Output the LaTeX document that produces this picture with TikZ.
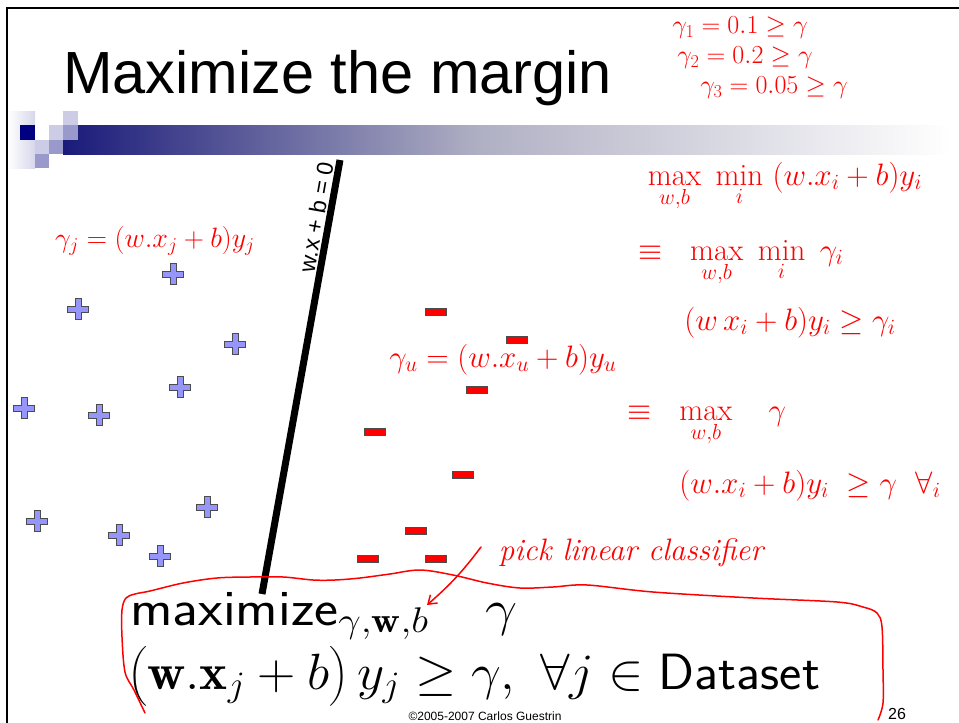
\RequirePackage{fix-cm}
\documentclass[tikz,border=0pt]{standalone}
\usepackage{amsmath}
\usepackage{fontspec}
\newfontfamily\slidefont{Liberation Sans}
\usetikzlibrary{arrows.meta,positioning}
\definecolor{headnavy}{RGB}{26,26,122}
\definecolor{headmid}{RGB}{176,176,196}
\definecolor{sqdark}{RGB}{0,0,128}
\definecolor{sqmid}{RGB}{153,153,204}
\definecolor{sqlight}{RGB}{204,204,230}
\definecolor{posfill}{RGB}{150,150,250}
\definecolor{inkred}{RGB}{255,0,0}

\begin{document}
\begin{tikzpicture}[
  x=1pt, y=-1pt,
  hand/.style={text=inkred, font=\fontsize{31}{33}\selectfont, inner sep=0pt},
  negbox/.style={draw=black!70, fill=red, line width=0.8pt, minimum width=21pt,
                 minimum height=7.5pt, inner sep=0pt},
  posmark/.style={draw=black!70, fill=posfill, line width=0.8pt},
  frameline/.style={line width=2pt},
  ink/.style={draw=inkred, line width=1.5pt, line cap=round, line join=round},
  bigmath/.style={font=\fontsize{51}{58}\selectfont, anchor=base west, inner sep=0pt}
]
\useasboundingbox (0,0) rectangle (959,723);
%--- slide frame and header -------------------------------------------------
\draw[frameline] (7,723) -- (7,8) -- (959,8);
\shade[left color=white, right color=sqlight!80] (8,111) rectangle (35,168);
\shade[left color=headnavy, right color=headmid] (63,125) rectangle (480.5,154);
\shade[left color=headmid, right color=white] (480,125) rectangle (950,154);
\fill[sqdark] (20,125) rectangle (35,140);
\fill[sqlight] (49,125) rectangle (63,140);
\fill[sqlight] (63,111) rectangle (78,125);
\fill[sqmid] (63,125) rectangle (78,140);
\fill[sqlight] (35,140) rectangle (49,154);
\fill[sqmid] (49,140) rectangle (63,154);
\fill[sqmid] (35,154) rectangle (49,168);
\node[anchor=base west, inner sep=0pt, font=\slidefont\fontsize{59.5}{62}\selectfont]
  (title) at (63,93) {Maximize the margin};

%--- separating line ---------------------------------------------------------
\coordinate (bdtop) at (340,160);
\coordinate (bdbot) at (262,594);
\draw[line width=7pt] (bdtop) -- (bdbot);
\node[font=\slidefont\fontsize{23}{25}\selectfont, rotate=80] (bdlabel) at (316,217) {w.x + b = 0};

%--- data points -------------------------------------------------------------
\foreach \px/\py in {173/274, 78/309, 235/344, 180/387, 24/408,
                     99/415, 207/507, 37/521, 119/535, 160/556}{
  \begin{scope}[shift={(\px,\py)}]
    \draw[posmark] (-3,-10.5) -- (3,-10.5) -- (3,-3) -- (10.5,-3) -- (10.5,3)
      -- (3,3) -- (3,10.5) -- (-3,10.5) -- (-3,3) -- (-10.5,3) -- (-10.5,-3)
      -- (-3,-3) -- cycle;
  \end{scope}
}
\foreach \px/\py [count=\k] in {436/312, 517/340, 477/390, 375/432,
                                463/475, 416/531, 368/559, 436/559}
  \node[negbox] (neg\k) at (\px,\py) {};

%--- optimisation problem ----------------------------------------------------
\node[bigmath, xscale=1.12] (objective) at (130,625)
  {\textsf{maximize}$_{\gamma,\mathbf{w},b}\quad\gamma$};
\node[bigmath, xscale=1.04] (constraint) at (128,689)
  {$\bigl(\mathbf{w}.\mathbf{x}_j+b\bigr)\,y_j\geq\gamma,\ \forall j\in\textsf{Dataset}$};

%--- handwritten notes -------------------------------------------------------
\node[hand, font=\fontsize{26}{28}\selectfont] (gam1) at (740,28) {$\gamma_1=0.1\geq\gamma$};
\node[hand, font=\fontsize{26}{28}\selectfont] (gam2) at (745,58) {$\gamma_2=0.2\geq\gamma$};
\node[hand, font=\fontsize{26}{28}\selectfont] (gam3) at (774,88) {$\gamma_3=0.05\geq\gamma$};
\node[hand, anchor=base] (maxmin) at (785,185)
  {$\max\limits_{w,b}\ \min\limits_{i}\ (w.x_i+b)y_i$};
\node[hand, anchor=base] (equiv1) at (741,260)
  {$\equiv\ \ \max\limits_{w,b}\ \min\limits_{i}\ \gamma_i$};
\node[hand, anchor=base] (cons1) at (790,330) {$(w\,x_i+b)y_i\geq\gamma_i$};
\node[hand, anchor=base] (equiv2) at (707,420) {$\equiv\ \ \max\limits_{w,b}\quad\gamma$};
\node[hand, anchor=base] (cons2) at (810,493) {$(w.x_i+b)y_i\ \geq\gamma\ \ \forall_i$};
\node[hand, anchor=base, font=\fontsize{28}{30}\selectfont] (gamj) at (155,247)
  {$\gamma_j=(w.x_j+b)y_j$};
\node[hand, anchor=base] (gamu) at (503,367) {$\gamma_u=(w.x_u+b)y_u$};
\node[hand, anchor=base, font=\itshape\fontsize{31}{33}\selectfont] (pick) at (631,560)
  {pick linear classifier};
\coordinate (picktail) at (481,547);
\coordinate (picktip) at (427,605);
\draw[ink, -{Straight Barb[length=8pt,width=11pt]}] (picktail) to[bend left=6] (picktip);
\draw[ink] plot[smooth, tension=0.55] coordinates {
  (145,713) (134,690) (125,672) (122,637) (122,610) (126,598) (135,594)
  (150,591) (183,583) (217,578) (250,577) (283,577) (313,580) (335,580)
  (360,578) (390,574) (420,570) (453,575) (487,583) (520,588) (553,587)
  (587,585) (653,592) (753,598) (837,602) (863,607) (877,613) (882,627)
  (883,670) (883,703) (878,720)};

%--- footer ------------------------------------------------------------------
\node[anchor=base, inner sep=0pt, font=\slidefont\fontsize{12}{14}\selectfont]
  (footer) at (485,720) {\textcopyright2005-2007 Carlos Guestrin};
\node[anchor=base, inner sep=0pt, font=\slidefont\fontsize{16}{18}\selectfont]
  (pagenum) at (897,719) {26};
\end{tikzpicture}
\end{document}
